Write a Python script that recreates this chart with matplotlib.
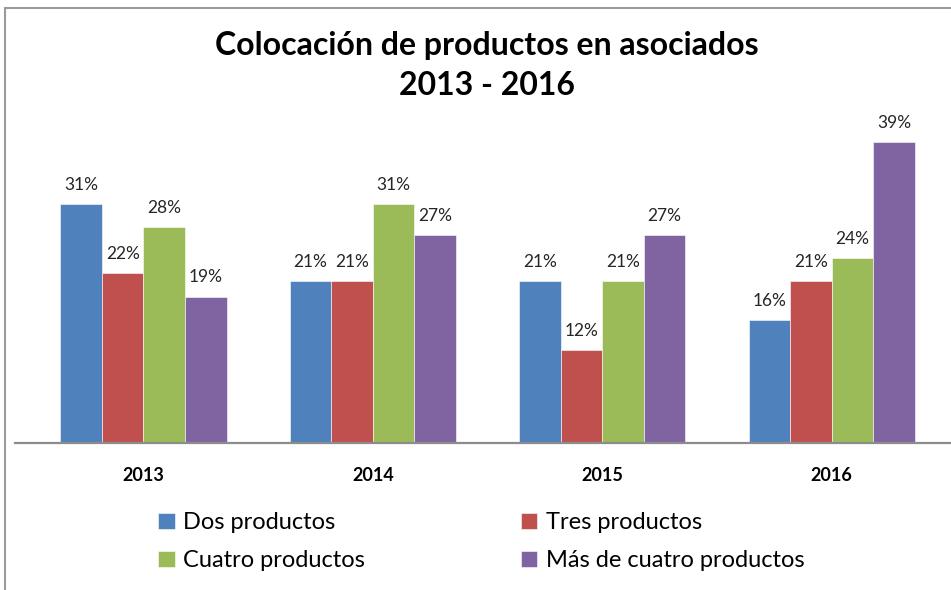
import numpy as np
import matplotlib.pyplot as plt
from matplotlib.patches import Rectangle

# data (percent)
years = ['2013', '2014', '2015', '2016']
dos = [31, 21, 21, 16]
tres = [22, 21, 12, 21]
cuatro = [28, 31, 21, 24]
mas = [19, 27, 27, 39]
series_names = ['Dos productos', 'Tres productos', 'Cuatro productos', 'Más de cuatro productos']
colors = ['#4F81BD', '#C0504D', '#9BBB59', '#8064A2']

plt.rcParams['font.family'] = ['Lato', 'DejaVu Sans']

W, H = 951, 590
fig = plt.figure(figsize=(W / 100, H / 100), dpi=100)

# axes box in pixels
left, right, base, top = 15, 951, 443, 120
ax = fig.add_axes([left / W, (H - base) / H, (right - left) / W, (base - top) / H])

x = np.arange(len(years))
width = 0.181
bars = []
for i, vals in enumerate([dos, tres, cuatro, mas]):
    b = ax.bar(x + (i - 1.5) * width, vals, width, color=colors[i],
               edgecolor='white', linewidth=0.4, label=series_names[i])
    bars.append(b)
    for xi, v in zip(x + (i - 1.5) * width, vals):
        ax.annotate('%d%%' % v, (xi, v), xytext=(0, 8), textcoords='offset points',
                    ha='center', va='bottom', fontsize=12.5, color='#262626')

ax.set_xlim(-0.56, 3.52)
ax.set_ylim(0, (base - top) / 7.71)
ax.set_yticks([])
ax.set_xticks(x)
ax.set_xticklabels(years, fontsize=13, fontweight='bold')
ax.tick_params(axis='x', length=0, pad=17)
for s in ['top', 'right', 'left']:
    ax.spines[s].set_visible(False)
ax.spines['bottom'].set_color('#8C8C8C')
ax.spines['bottom'].set_linewidth(1.6)

fig.text(487 / W, 1 - 45 / H, 'Colocación de productos en asociados', ha='center', va='center',
         fontsize=23, fontweight='bold')
fig.text(487 / W, 1 - 85 / H, '2013 - 2016', ha='center', va='center',
         fontsize=23, fontweight='bold')

# legend: row 1 Dos / Tres, row 2 Cuatro / Más
order = [0, 2, 1, 3]
handles = [bars[i] for i in order]
labels = [series_names[i] for i in order]
fig.legend(handles, labels, ncol=2, loc='upper left', bbox_to_anchor=(137 / W, 1 - 491 / H),
           frameon=False, fontsize=17, handlelength=0.7, handleheight=0.7, handletextpad=0.35,
           columnspacing=6.6, labelspacing=0.72)

# chart-area border (top and left visible)
fig.patches.append(Rectangle((5 / W, -0.1), 1.2, 1 - 8 / H + 0.1, transform=fig.transFigure,
                             fill=False, edgecolor='#9A9A9A', linewidth=1.5))

fig.savefig('out.png', dpi=100)
